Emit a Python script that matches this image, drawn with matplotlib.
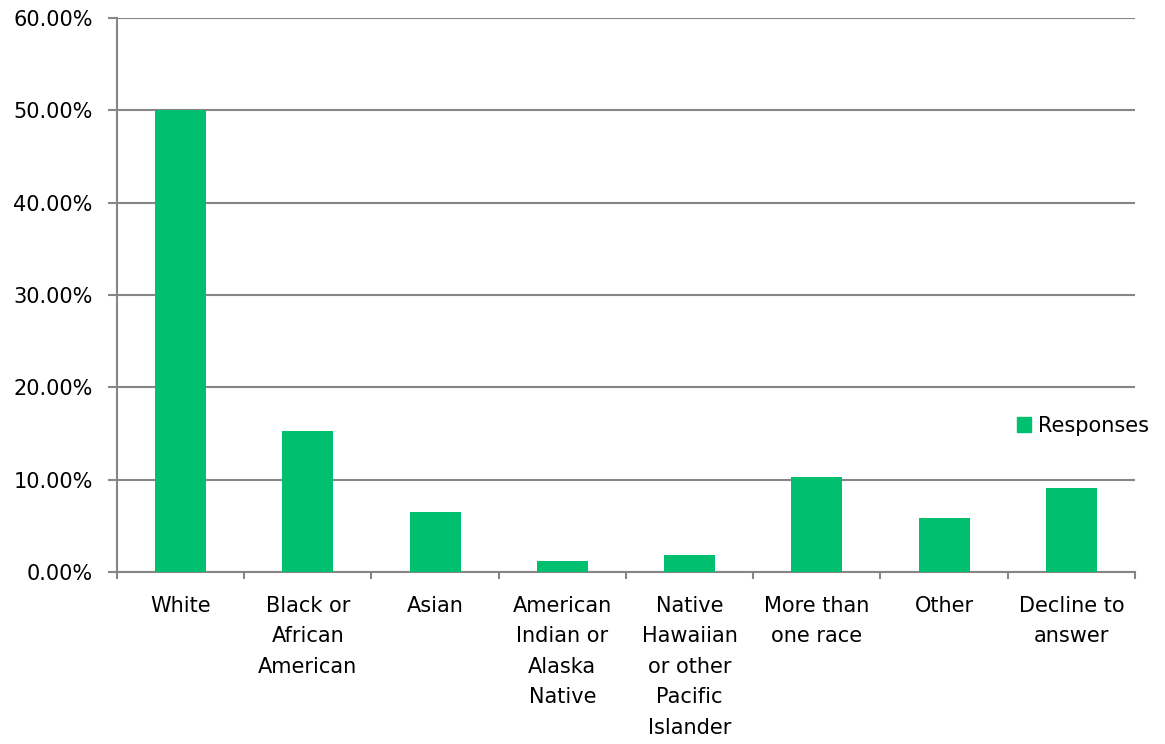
import matplotlib
matplotlib.use("Agg")
import matplotlib.pyplot as plt
from matplotlib.ticker import FuncFormatter, FixedLocator
from matplotlib.patches import Patch

categories = ["White", "Black or\nAfrican\nAmerican", "Asian",
              "American\nIndian or\nAlaska\nNative",
              "Native\nHawaiian\nor other\nPacific\nIslander",
              "More than\none race", "Other", "Decline to\nanswer"]
responses = [50.0, 15.25, 6.55, 1.2, 1.85, 10.25, 5.9, 9.05]

GREEN = "#00BF6F"
GRAY = "#868686"

plt.rcParams["font.family"] = ["DejaVu Sans"]
fig = plt.figure(figsize=(11.65, 7.44), dpi=100)
ax = fig.add_axes([0.1004, 0.2312, 0.8738, 0.7446])

x = list(range(len(categories)))
ax.bar(x, responses, width=0.4, color=GREEN, zorder=3)

ax.set_xlim(-0.5, len(categories) - 0.5)
ax.set_ylim(0, 60)
ax.set_yticks([0, 10, 20, 30, 40, 50, 60])
ax.yaxis.set_major_formatter(FuncFormatter(lambda v, p: f"{v:.2f}%"))
ax.grid(axis="y", color=GRAY, lw=1.5, zorder=0)

ax.set_xticks(x)
ax.set_xticklabels(categories, fontsize=15, linespacing=1.66, va="top")
ax.tick_params(axis="x", which="major", length=0, pad=17)
ax.xaxis.set_minor_locator(FixedLocator([i - 0.5 for i in range(len(categories) + 1)]))
ax.tick_params(axis="x", which="minor", length=5, width=1.5, color=GRAY, direction="out")
ax.tick_params(axis="y", length=6.5, width=1.5, color=GRAY, labelsize=15, pad=11)

for side in ["top", "right"]:
    ax.spines[side].set_visible(False)
for side in ["left", "bottom"]:
    ax.spines[side].set_color(GRAY)
    ax.spines[side].set_linewidth(1.5)

ax.legend(handles=[Patch(color=GREEN, label="Responses")], loc="center left",
          bbox_to_anchor=(0.884, 0.2635), frameon=False, fontsize=15,
          handlelength=0.7, handleheight=0.7, handletextpad=0.3,
          borderpad=0, borderaxespad=0)

fig.savefig("out.png", dpi=100)
